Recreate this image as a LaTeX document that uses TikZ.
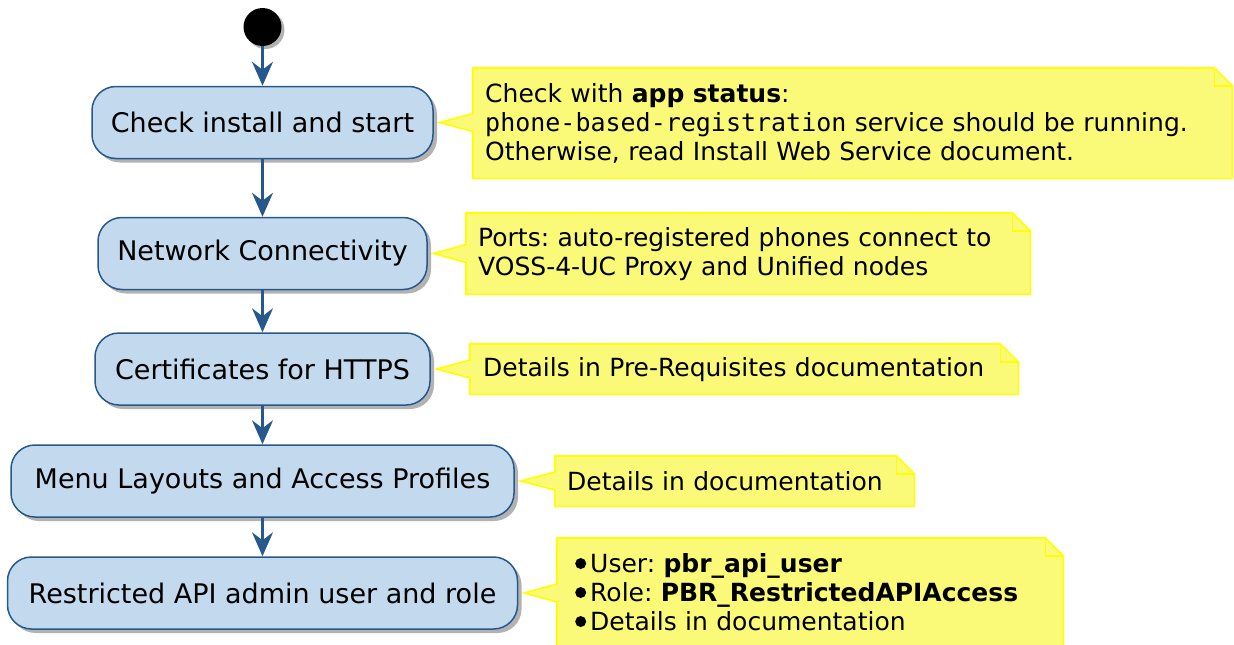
\documentclass[tikz,border=0pt]{standalone}
\usepackage{fontspec}
\setmainfont{DejaVu Sans}
\setmonofont{DejaVu Sans Mono}
\usetikzlibrary{arrows.meta,shadows,calc,backgrounds}
\frenchspacing
\definecolor{pbrfill}{RGB}{195,218,238}
\definecolor{pbrblue}{RGB}{38,88,140}
\definecolor{pbrnotefill}{RGB}{250,250,120}
\definecolor{pbrnoteline}{RGB}{255,255,0}
\tikzset{
  pbrstep/.style={rectangle,rounded corners=24pt,draw=pbrblue,fill=pbrfill,line width=1.5pt,
    minimum height=72pt,inner sep=0pt,font=\fontsize{27}{31}\selectfont,
    drop shadow={shadow xshift=4pt,shadow yshift=-4pt,opacity=0.3,fill=black}},
  pbrstart/.style={circle,fill=black,minimum size=38pt,inner sep=0pt,
    drop shadow={shadow xshift=3pt,shadow yshift=-3pt,opacity=0.3,fill=black}},
  pbrflow/.style={-{Stealth[length=24pt,width=21pt,inset=8pt]},draw=pbrblue,line width=2.5pt},
  pbrnote/.style={anchor=north west,align=left,inner xsep=12pt,inner ysep=0pt,
    font=\fontsize{25}{29}\selectfont},
  pbrnoteline/.style={draw=pbrnoteline,fill=pbrnotefill,line width=1.6pt,line join=miter}
}
% note outline with folded corner, pointing at an activity
\newcommand\pbrnotepath[2]{%
  \begin{scope}[on background layer]
    \coordinate (#1-base) at ($(#1.south west)!(#2.east)!(#1.north west)$);
    \draw[pbrnoteline] (#1.north west) -- ([xshift=-18pt]#1.north east)
      -- ([yshift=-18pt]#1.north east) -- (#1.south east) -- (#1.south west)
      -- ([yshift=-9pt]#1-base) -- ([xshift=6pt]#2.east) -- ([yshift=9pt]#1-base) -- cycle;
    \draw[pbrnoteline,fill=none] ([xshift=-18pt]#1.north east) |- ([yshift=-18pt]#1.north east);
  \end{scope}}
\newcommand\pbrdot{\tikz[baseline=-0.36em]\fill (0,0) circle (5.5pt);\hspace{4pt}}

\begin{document}
\begin{tikzpicture}[x=1pt,y=-1pt]
  \useasboundingbox (0,0) rectangle (1234,645);
  \node[pbrstart] (start) at (262.5,27) {};
  \node[pbrstep,minimum width=341pt] (install) at (262.5,122.5) {Check install and start};
  \node[pbrstep,minimum width=329pt] (network) at (262.5,253.5) {Network Connectivity};
  \node[pbrstep,minimum width=335pt] (certs) at (262.5,369) {Certificates for HTTPS};
  \node[pbrstep,minimum width=503pt] (menus) at (262.5,481) {Menu Layouts and Access Profiles};
  \node[pbrstep,minimum width=510pt] (apiuser) at (262.5,593) {Restricted API admin user and role};

  \draw[pbrflow] (start) -- (install);
  \draw[pbrflow] (install) -- (network);
  \draw[pbrflow] (network) -- (certs);
  \draw[pbrflow] (certs) -- (menus);
  \draw[pbrflow] (menus) -- (apiuser);

  \node[pbrnote,text width=735pt,minimum height=110pt] (installnote) at (473,68)
    {Check with \textbf{app status}:\\
     \texttt{phone-based-registration} service should be running.\\
     Otherwise, read Install Web Service document.};
  \node[pbrnote,text width=540pt,minimum height=81pt] (networknote) at (466,213)
    {Ports: auto-registered phones connect to\\ VOSS-4-UC Proxy and Unified nodes};
  \node[pbrnote,text width=522pt,minimum height=50pt,inner xsep=13pt] (certsnote) at (470,344)
    {Details in Pre-Requisites documentation};
  \node[pbrnote,text width=335pt,minimum height=50pt] (menusnote) at (555,456)
    {Details in documentation};
  \node[pbrnote,text width=470pt,minimum height=108pt,inner xsep=18pt] (apiusernote) at (557,538)
    {\pbrdot User: \textbf{pbr\_api\_user}\\
     \pbrdot Role: \textbf{PBR\_RestrictedAPIAccess}\\
     \pbrdot Details in documentation};

  \pbrnotepath{installnote}{install}
  \pbrnotepath{networknote}{network}
  \pbrnotepath{certsnote}{certs}
  \pbrnotepath{menusnote}{menus}
  \pbrnotepath{apiusernote}{apiuser}
\end{tikzpicture}
\end{document}
